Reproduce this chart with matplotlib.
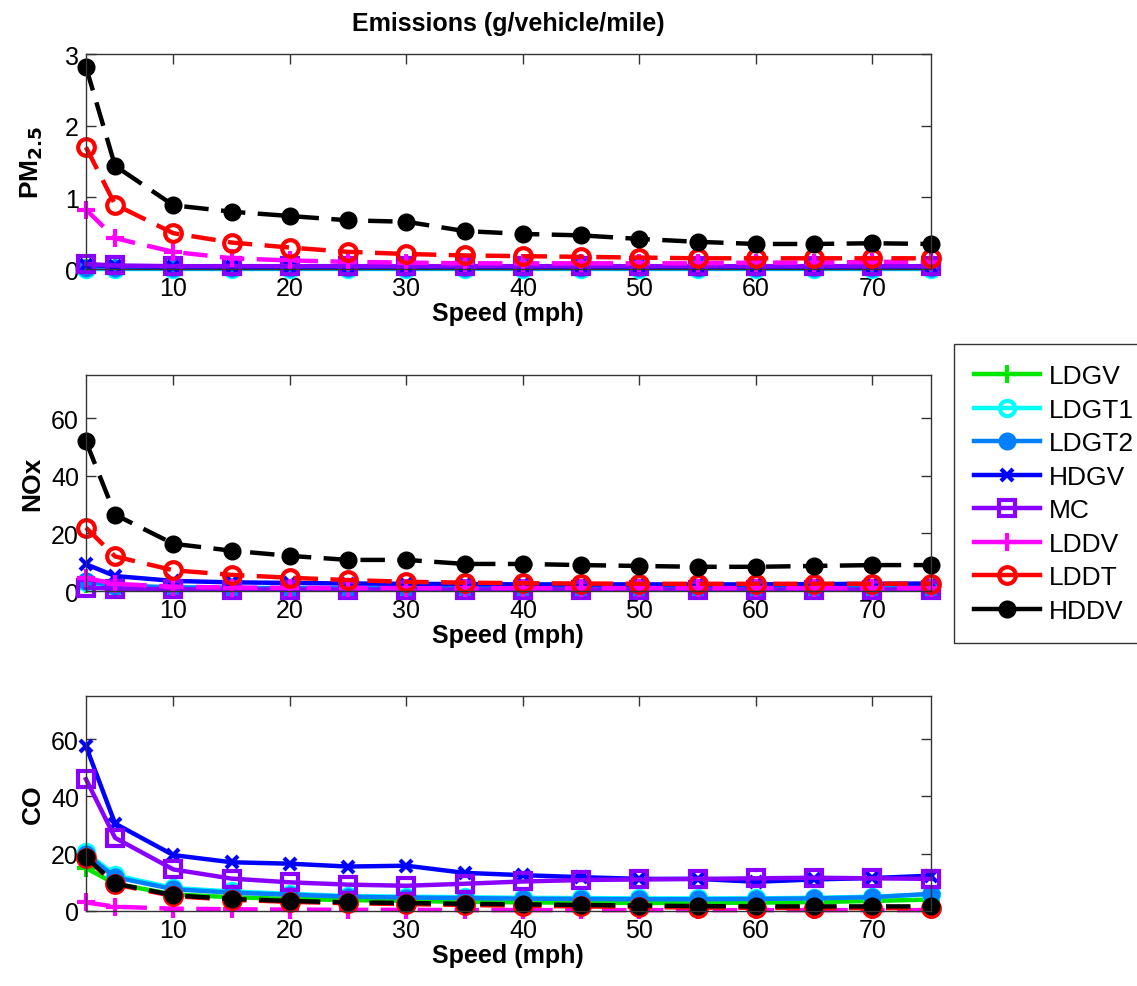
import matplotlib.pyplot as plt

plt.rcParams['font.family'] = ['Liberation Sans', 'DejaVu Sans']

speed = [2.5, 5, 10, 15, 20, 25, 30, 35, 40, 45, 50, 55, 60, 65, 70, 75]
vehicles = ['LDGV', 'LDGT1', 'LDGT2', 'HDGV', 'MC', 'LDDV', 'LDDT', 'HDDV']

pm25 = {
    'LDGV':  [0.02, 0.015, 0.01, 0.01, 0.01, 0.01, 0.01, 0.01, 0.01, 0.01, 0.01, 0.01, 0.01, 0.01, 0.01, 0.015],
    'LDGT1': [0.005, 0.005, 0.005, 0.005, 0.005, 0.005, 0.005, 0.005, 0.005, 0.005, 0.005, 0.005, 0.005, 0.005, 0.005, 0.005],
    'LDGT2': [0.015, 0.012, 0.01, 0.01, 0.01, 0.01, 0.01, 0.01, 0.01, 0.01, 0.01, 0.01, 0.01, 0.01, 0.01, 0.012],
    'HDGV':  [0.06, 0.04, 0.03, 0.03, 0.03, 0.03, 0.03, 0.03, 0.03, 0.03, 0.03, 0.03, 0.03, 0.03, 0.03, 0.035],
    'MC':    [0.07, 0.05, 0.04, 0.04, 0.04, 0.04, 0.04, 0.04, 0.04, 0.04, 0.04, 0.04, 0.04, 0.04, 0.04, 0.04],
    'LDDV':  [0.83, 0.43, 0.24, 0.15, 0.12, 0.10, 0.09, 0.08, 0.08, 0.08, 0.08, 0.08, 0.09, 0.09, 0.10, 0.10],
    'LDDT':  [1.70, 0.90, 0.50, 0.37, 0.30, 0.24, 0.21, 0.19, 0.18, 0.17, 0.16, 0.15, 0.15, 0.15, 0.15, 0.15],
    'HDDV':  [2.82, 1.44, 0.89, 0.80, 0.74, 0.68, 0.66, 0.53, 0.49, 0.47, 0.42, 0.38, 0.35, 0.35, 0.36, 0.35],
}

nox = {
    'LDGV':  [2.5, 1.2, 0.8, 0.6, 0.6, 0.5, 0.5, 0.5, 0.5, 0.5, 0.5, 0.5, 0.5, 0.5, 0.6, 0.7],
    'LDGT1': [3.0, 1.6, 1.1, 0.9, 0.8, 0.8, 0.8, 0.8, 0.8, 0.8, 0.8, 0.8, 0.8, 0.8, 0.9, 1.0],
    'LDGT2': [3.5, 1.9, 1.3, 1.1, 1.0, 1.0, 1.0, 1.0, 1.0, 1.0, 1.0, 1.0, 1.0, 1.0, 1.1, 1.2],
    'HDGV':  [9.3, 5.2, 3.5, 3.0, 2.8, 2.6, 2.5, 2.4, 2.3, 2.3, 2.3, 2.3, 2.3, 2.4, 2.5, 2.6],
    'MC':    [1.2, 0.8, 0.6, 0.5, 0.5, 0.5, 0.5, 0.5, 0.5, 0.5, 0.5, 0.5, 0.5, 0.5, 0.5, 0.5],
    'LDDV':  [4.5, 2.5, 1.5, 1.2, 1.1, 1.0, 1.0, 1.0, 1.0, 1.0, 1.0, 1.0, 1.0, 1.0, 1.0, 1.0],
    'LDDT':  [22.0, 12.0, 7.2, 5.6, 4.6, 3.8, 3.2, 2.9, 2.7, 2.6, 2.5, 2.5, 2.5, 2.5, 2.5, 2.6],
    'HDDV':  [52.0, 26.5, 16.4, 14.0, 12.2, 10.8, 10.8, 9.4, 9.4, 9.0, 8.7, 8.4, 8.4, 8.7, 9.0, 9.0],
}

co = {
    'LDGV':  [15.0, 9.5, 5.8, 4.8, 4.2, 3.8, 3.5, 3.2, 3.0, 2.9, 2.8, 2.8, 2.9, 3.1, 3.5, 4.0],
    'LDGT1': [20.5, 12.5, 8.0, 6.8, 6.0, 5.2, 5.0, 4.8, 4.6, 4.5, 4.4, 4.4, 4.4, 4.6, 5.0, 5.8],
    'LDGT2': [19.8, 11.8, 7.6, 6.4, 5.7, 5.0, 4.7, 4.5, 4.3, 4.2, 4.1, 4.1, 4.2, 4.4, 4.8, 6.0],
    'HDGV':  [57.5, 30.5, 19.5, 17.0, 16.5, 15.5, 15.8, 13.3, 12.5, 11.8, 11.2, 11.2, 10.2, 11.0, 11.5, 12.3],
    'MC':    [46.0, 25.5, 14.5, 11.3, 10.0, 9.2, 8.8, 9.5, 10.3, 10.8, 11.0, 11.2, 11.4, 11.6, 11.4, 11.2],
    'LDDV':  [3.0, 1.5, 0.8, 0.6, 0.5, 0.4, 0.4, 0.3, 0.3, 0.3, 0.3, 0.3, 0.3, 0.3, 0.3, 0.3],
    'LDDT':  [18.5, 9.3, 5.2, 3.9, 3.2, 2.7, 2.4, 2.1, 1.8, 1.6, 1.4, 1.2, 1.1, 1.0, 1.0, 1.0],
    'HDDV':  [18.8, 9.6, 5.5, 4.2, 3.5, 3.0, 2.8, 2.5, 2.3, 2.1, 1.9, 1.7, 1.6, 1.6, 1.6, 1.6],
}

# line styles per vehicle type
styles = {
    'LDGV':  dict(color='#00e600', ls='-', marker='+', ms=13, mfc='#00e600'),
    'LDGT1': dict(color='#00ffff', ls='-', marker='o', ms=11, mfc='none'),
    'LDGT2': dict(color='#0080ff', ls='-', marker='o', ms=10, mfc='#0080ff'),
    'HDGV':  dict(color='#0000ff', ls='-', marker='x', ms=9, mfc='#0000ff'),
    'MC':    dict(color='#8a00ff', ls='-', marker='s', ms=11, mfc='none'),
    'LDDV':  dict(color='#ff00ff', ls='--', marker='+', ms=13, mfc='#ff00ff'),
    'LDDT':  dict(color='#ff0000', ls='--', marker='o', ms=12, mfc='none'),
    'HDDV':  dict(color='black', ls='--', marker='o', ms=10, mfc='black'),
}

fig = plt.figure(figsize=(11.37, 9.87), dpi=100)

boxes = [(0.0756, 0.7264, 0.743, 0.2178),
         (0.0756, 0.4002, 0.743, 0.2188),
         (0.0756, 0.0760, 0.743, 0.2178)]
panels = [(pm25, 'PM$_{\\mathbf{2.5}}$', (0, 3), [0, 1, 2, 3]),
          (nox, 'NOx', (0, 75), [0, 20, 40, 60]),
          (co, 'CO', (0, 75), [0, 20, 40, 60])]

handles = []
for i, (box, (data, ylab, ylim, yticks)) in enumerate(zip(boxes, panels)):
    ax = fig.add_axes(box)
    for v in vehicles:
        st = styles[v]
        line, = ax.plot(speed, data[v], color=st['color'], linestyle=st['ls'],
                        marker=st['marker'], markersize=st['ms'],
                        markerfacecolor=st['mfc'], markeredgecolor=st['color'],
                        markeredgewidth=3, linewidth=3.2, label=v, clip_on=False)
        if st['ls'] == '--':
            line.set_dashes((5.5, 2.8))
        if i == 0:
            handles.append(line)
    ax.set_xlim(2.5, 75)
    ax.set_ylim(*ylim)
    ax.set_xticks([10, 20, 30, 40, 50, 60, 70])
    ax.set_yticks(yticks)
    ax.tick_params(direction='in', top=True, right=True, length=7, width=1,
                   labelsize=18, pad=5, color='#333333')
    for sp in ax.spines.values():
        sp.set_linewidth(1)
        sp.set_color('#333333')
    ax.set_xlabel('Speed (mph)', fontsize=18, fontweight='bold', labelpad=1)
    ax.set_ylabel(ylab, fontsize=19, fontweight='bold')
    ax.yaxis.set_label_coords(-0.049, 0.5)
    if i == 0:
        ax.set_title('Emissions (g/vehicle/mile)', fontsize=18, fontweight='bold', pad=17)

leg = fig.legend(handles=handles, loc='upper left', bbox_to_anchor=(0.839, 0.650),
                 borderaxespad=0, fontsize=19, frameon=True, fancybox=False,
                 edgecolor='#333333', framealpha=1, handlelength=2.5,
                 labelspacing=0.36, borderpad=0.75, handletextpad=0.33)
leg.get_frame().set_linewidth(1)
for h in leg.get_lines():
    h.set_linestyle('-')

fig.savefig('out.png', dpi=100)
